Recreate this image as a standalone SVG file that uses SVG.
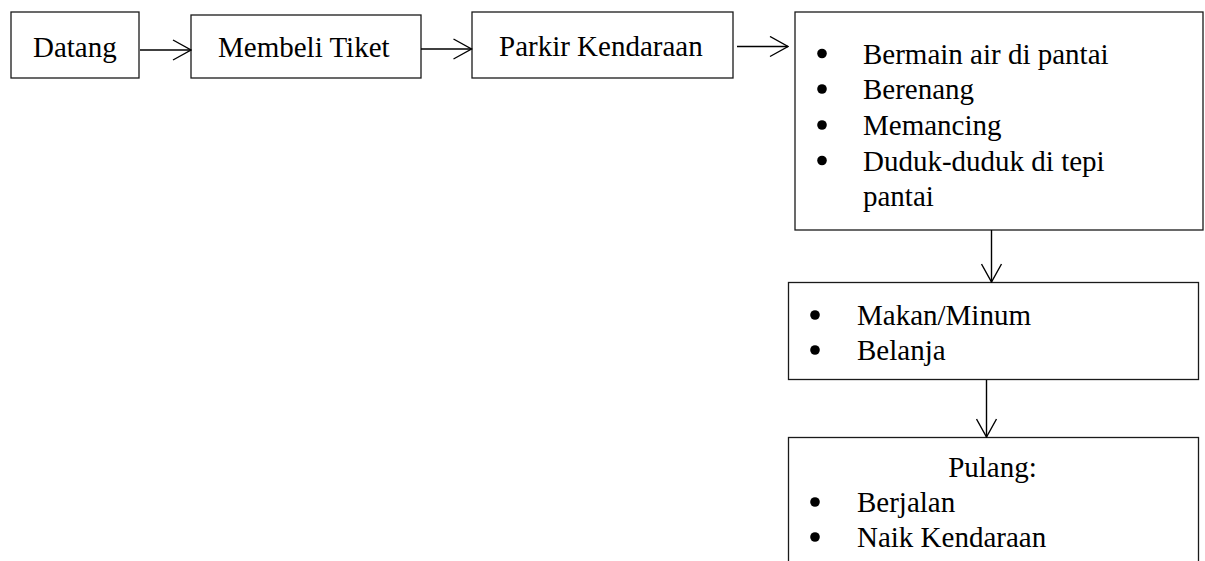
<svg xmlns="http://www.w3.org/2000/svg" width="1205" height="561" viewBox="0 0 1205 561">
  <style>
    .box { fill: #fff; stroke: #1a1a1a; stroke-width: 1.3; }
    .lbl { font-family: "Liberation Serif", "Times New Roman", serif; font-size: 29px; fill: #000; }
    .dot { fill: #000; }
    .link { fill: none; stroke: #000; stroke-width: 1.4; }
  </style>
  <defs>
    <marker id="chev" viewBox="0 0 20 22" refX="19" refY="11" markerWidth="20" markerHeight="22" markerUnits="userSpaceOnUse" orient="auto">
      <path d="M1,1 L19,11 L1,21" fill="none" stroke="#000" stroke-width="1.4"/>
    </marker>
  </defs>
  <rect width="1205" height="561" fill="#fff"/>

  <g id="datang">
    <rect class="box" x="11" y="12" width="128" height="66"/>
    <text class="lbl" x="33" y="57">Datang</text>
  </g>

  <g id="membeli-tiket">
    <rect class="box" x="191" y="15" width="230" height="63"/>
    <text class="lbl" x="218" y="57">Membeli Tiket</text>
  </g>

  <g id="parkir-kendaraan">
    <rect class="box" x="472" y="12" width="261" height="66"/>
    <text class="lbl" x="499" y="56">Parkir Kendaraan</text>
  </g>

  <g id="aktivitas">
    <rect class="box" x="795" y="12" width="408" height="218"/>
    <circle class="dot" cx="822" cy="53.5" r="4.8"/>
    <circle class="dot" cx="822" cy="89" r="4.8"/>
    <circle class="dot" cx="822" cy="125" r="4.8"/>
    <circle class="dot" cx="822" cy="160.5" r="4.8"/>
    <text class="lbl" x="863" y="63.5">Bermain air di pantai</text>
    <text class="lbl" x="863" y="99">Berenang</text>
    <text class="lbl" x="863" y="135">Memancing</text>
    <text class="lbl" x="863" y="170.5">Duduk-duduk di tepi</text>
    <text class="lbl" x="863" y="205.5">pantai</text>
  </g>

  <g id="makan-belanja">
    <rect class="box" x="788.5" y="282.5" width="410" height="97"/>
    <circle class="dot" cx="815" cy="315" r="4.8"/>
    <circle class="dot" cx="815" cy="350" r="4.8"/>
    <text class="lbl" x="857" y="325">Makan/Minum</text>
    <text class="lbl" x="857" y="360">Belanja</text>
  </g>

  <g id="pulang">
    <rect class="box" x="788.5" y="437.5" width="410" height="140"/>
    <text class="lbl" x="992.5" y="477" text-anchor="middle">Pulang:</text>
    <circle class="dot" cx="815" cy="502" r="4.8"/>
    <circle class="dot" cx="815" cy="537" r="4.8"/>
    <text class="lbl" x="857" y="512">Berjalan</text>
    <text class="lbl" x="857" y="547">Naik Kendaraan</text>
  </g>

  <g id="connectors">
    <line class="link" x1="140" y1="50" x2="191" y2="50" marker-end="url(#chev)"/>
    <line class="link" x1="421" y1="49" x2="471.5" y2="49" marker-end="url(#chev)"/>
    <line class="link" x1="737" y1="46.5" x2="788" y2="46.5" marker-end="url(#chev)"/>
    <line class="link" x1="991.5" y1="230" x2="991.5" y2="282" marker-end="url(#chev)"/>
    <line class="link" x1="986.5" y1="380" x2="986.5" y2="437" marker-end="url(#chev)"/>
  </g>
</svg>
